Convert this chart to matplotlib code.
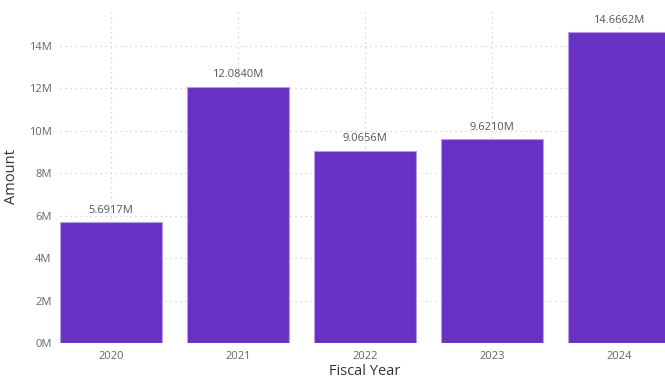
import matplotlib.pyplot as plt
from matplotlib.ticker import FuncFormatter

years = ['2020', '2021', '2022', '2023', '2024']
amounts = [5691700, 12084000, 9065600, 9621000, 14666200]
labels = ['5.6917M', '12.0840M', '9.0656M', '9.6210M', '14.6662M']

plt.rcParams['font.family'] = ['Open Sans', 'DejaVu Sans']

fig = plt.figure(figsize=(6.65, 3.81), dpi=100)
ax = fig.add_axes([0.0902, 0.0997, 0.9167, 0.874])

x = range(len(years))
ax.bar(x, amounts, width=0.8, color='#6732c4', edgecolor='#b79be6', linewidth=0.8, zorder=3)

for i, (v, t) in enumerate(zip(amounts, labels)):
    ax.text(i, v + 300000, t, ha='center', va='bottom', fontsize=8, color='#555555', zorder=4)

ax.set_xlim(-0.4, 4.4)
ax.set_ylim(0, 15.7e6)
ax.set_yticks([i * 2e6 for i in range(8)])
ax.yaxis.set_major_formatter(FuncFormatter(lambda v, p: f'{v / 1e6:.0f}M'))
ax.set_xticks(list(x))
ax.set_xticklabels(years)

ax.grid(True, color='#d0d0d0', linestyle=(0, (1, 3)), linewidth=0.9, zorder=0)
for s in ax.spines.values():
    s.set_visible(False)
ax.tick_params(length=0, labelsize=8, labelcolor='#666666', pad=6)

ax.set_xlabel('Fiscal Year', fontsize=10.5, color='#333333', labelpad=1)
ax.set_ylabel('Amount', fontsize=10.5, color='#333333', labelpad=7)

fig.savefig('out.png', dpi=100)
